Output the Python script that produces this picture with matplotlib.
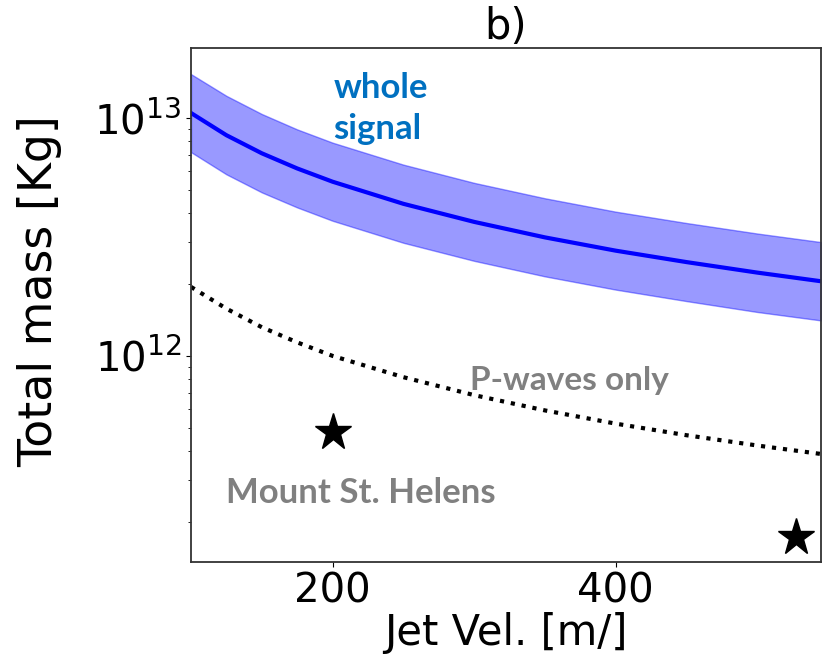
import numpy as np
import matplotlib.pyplot as plt
from matplotlib.ticker import NullFormatter

# jet velocity [m/s] and mass estimates [kg]
vel = [100, 125, 150, 175, 200, 250, 300, 350, 400, 450, 500, 545]
mass_whole = [1.05e13, 8.47e12, 7.11e12, 6.14e12, 5.40e12, 4.36e12,
              3.66e12, 3.15e12, 2.77e12, 2.48e12, 2.24e12, 2.06e12]
mass_upper = [1.53e13, 1.24e13, 1.04e13, 8.96e12, 7.88e12, 6.37e12,
              5.34e12, 4.6e12, 4.04e12, 3.62e12, 3.27e12, 3.01e12]
mass_lower = [7.19e12, 5.80e12, 4.87e12, 4.21e12, 3.70e12, 2.99e12,
              2.51e12, 2.16e12, 1.90e12, 1.70e12, 1.53e12, 1.41e12]
mass_pwaves = [1.95e12, 1.58e12, 1.32e12, 1.14e12, 1.0e12, 8.14e11,
               6.84e11, 5.9e11, 5.19e11, 4.64e11, 4.2e11, 3.87e11]

# Mount St. Helens reference points
msh_vel = [200, 527]
msh_mass = [4.8e11, 1.74e11]

fig = plt.figure(figsize=(8.22, 6.57), dpi=100)
ax = fig.add_axes([0.2324, 0.1446, 0.7664, 0.7823])

ax.fill_between(vel, mass_lower, mass_upper, color='b', alpha=0.4,
                edgecolor='b', linewidth=1)
ax.plot(vel, mass_whole, color='b', lw=3)
ax.plot(vel, mass_pwaves, 'k:', lw=3)
ax.plot(msh_vel, msh_mass, 'k*', ms=28, linestyle='none')

ax.set_yscale('log')
ax.set_xlim(100, 545)
ax.set_ylim(1.36e11, 1.97e13)
ax.set_xticks([200, 400])
ax.yaxis.set_minor_formatter(NullFormatter())
ax.tick_params(labelsize=29)
for s in ax.spines.values():
    s.set_linewidth(1.3)
    s.set_color('#333333')

ax.set_xlabel('Jet Vel. [m/]', fontsize=30)
ax.xaxis.set_label_coords(0.5, -0.098)
ax.set_ylabel('Total mass [Kg]', fontsize=33)
ax.yaxis.set_label_coords(-0.205, 0.527)
ax.set_title('b)', fontsize=30, pad=4)

font = dict(family=['Lato', 'DejaVu Sans'], fontweight='bold', fontsize=25)
ax.text(200.5, 1.1e13, 'whole\nsignal', color='#0070C0', ha='left',
        va='center', linespacing=1.35, **font)
ax.text(367, 7.9e11, 'P-waves only', color='#808080', ha='center',
        va='center', fontsize=24, family=['Lato', 'DejaVu Sans'],
        fontweight='bold')
ax.text(220, 2.65e11, 'Mount St. Helens', color='#808080', ha='center',
        va='center', **font)

fig.savefig('out.png', dpi=100)
